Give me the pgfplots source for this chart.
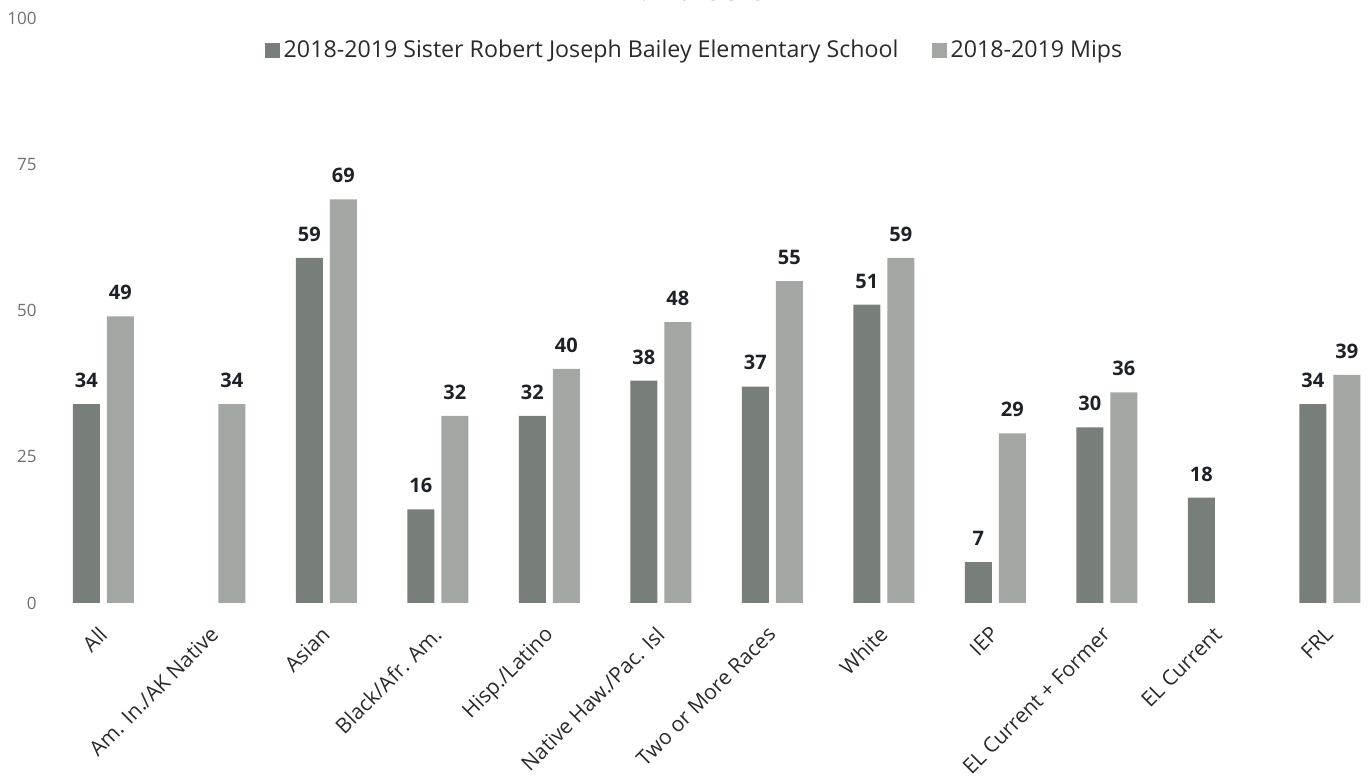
\documentclass[border=0pt]{standalone}
\usepackage{pgfplots}
\pgfplotsset{compat=1.18}
\usepackage{fontspec}
\setmainfont{Open Sans}
\definecolor{schoolc}{HTML}{787F7A}
\definecolor{mipsc}{HTML}{A2A7A3}
\definecolor{labc}{HTML}{1E2228}
\definecolor{tickc}{HTML}{707070}
\definecolor{legc}{HTML}{2A2A2A}
\begin{document}
\begin{tikzpicture}
\begin{axis}[
  at={(0,0)}, anchor=south west,
  scale only axis, width=664.5pt, height=292.5pt,
  xmin=-0.55, xmax=11.37, ymin=0, ymax=100,
  ybar=3.5pt, bar width=13.5pt,
  axis line style={draw=none}, tick style={draw=none},
  xtick={0,...,11},
  xticklabels={All,Am. In./AK Native,Asian,Black/Afr. Am.,Hisp./Latino,Native Haw./Pac. Isl,Two or More Races,White,IEP,EL Current + Former,EL Current,FRL},
  xticklabel style={font=\fontsize{10.5}{12}\selectfont, text=legc, xshift=-3pt, yshift=-6.5pt, rotate=45, anchor=north east, inner sep=0pt},
  ytick={0,25,50,75,100},
  yticklabel style={font=\fontsize{8.5}{10}\selectfont, text=tickc, anchor=east, inner sep=0pt, xshift=-2.5pt},
  /pgf/number format/assume math mode=true,
  nodes near coords,
  nodes near coords style={font=\bfseries\fontsize{10}{12}\selectfont, text=labc, anchor=south, inner sep=0pt, yshift=8pt},
  legend columns=2,
  legend style={at={(0.4917,0.945)}, anchor=center, draw=none, fill=none, font=\fontsize{11.6}{13}\selectfont, text=legc, /tikz/every even column/.append style={column sep=14.5pt}},
  legend image code/.code={\fill[#1] (-1pt,-3.75pt) rectangle (6.5pt,3.75pt);},
]
\addplot[fill=schoolc, draw=none] coordinates {(0,34) (2,59) (3,16) (4,32) (5,38) (6,37) (7,51) (8,7) (9,30) (10,18) (11,34)};
\addplot[fill=mipsc, draw=none] coordinates {(0,49) (1,34) (2,69) (3,32) (4,40) (5,48) (6,55) (7,59) (8,29) (9,36) (11,39)};
\legend{2018-2019 Sister Robert Joseph Bailey Elementary School, 2018-2019 Mips}
\end{axis}
\node[font=\bfseries\fontsize{11}{13}\selectfont, text=labc, anchor=base] at (326.5pt,301pt) {\% Proficient};
\pgfresetboundingbox
\path[use as bounding box] (-21pt,-88.5pt) rectangle (664.5pt,301.5pt);
\end{tikzpicture}
\end{document}
